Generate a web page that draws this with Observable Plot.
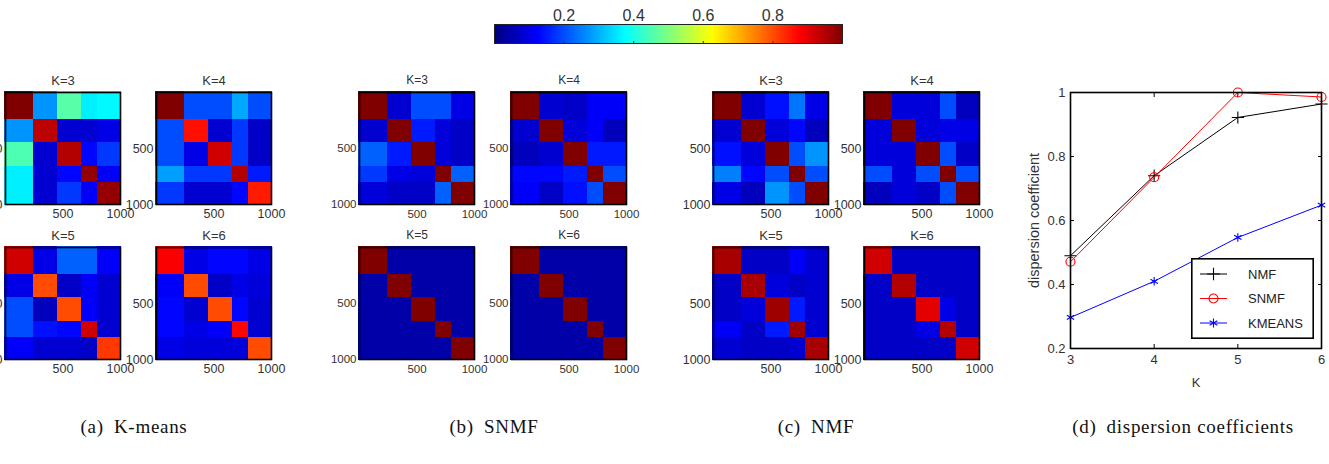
<!DOCTYPE html>
<html>
<head>
<meta charset="utf-8">
<script src="https://cdn.jsdelivr.net/npm/d3@7"></script>
<script src="https://cdn.jsdelivr.net/npm/@observablehq/plot@0.6"></script>
<style>
  html, body { margin: 0; padding: 0; background: #fff; }
  body { width: 1329px; height: 464px; position: relative; overflow: hidden; font-family: "Liberation Sans", Arial, sans-serif; }
  .panel { position: absolute; }
  .panel svg { overflow: visible; }
  .caption { position: absolute; transform: translateX(-50%); white-space: nowrap;
             font-family: "Liberation Serif", "DejaVu Serif", serif; font-size: 19px; letter-spacing: 0.7px; color: #111; }
</style>
</head>
<body>
<script>
// ---------- data ----------
// cluster boundaries of the 1000 samples (five ground-truth groups)
const clusterEdges = [0, 250, 455, 665, 805, 1000];
const kValues = [3, 4, 5, 6];

// consensus matrices, block-averaged (rows/cols follow clusterEdges)
const kmeansK3 = [
  [1.00, 0.27, 0.46, 0.36, 0.37],
  [0.27, 0.94, 0.08, 0.08, 0.10],
  [0.45, 0.08, 0.95, 0.13, 0.18],
  [0.36, 0.08, 0.13, 0.98, 0.12],
  [0.36, 0.08, 0.18, 0.12, 0.98]
];
const kmeansK4 = [
  [1.00, 0.20, 0.20, 0.29, 0.20],
  [0.20, 0.86, 0.08, 0.18, 0.07],
  [0.20, 0.10, 0.92, 0.18, 0.07],
  [0.28, 0.18, 0.18, 0.95, 0.15],
  [0.18, 0.08, 0.08, 0.13, 0.85]
];
const kmeansK5 = [
  [0.92, 0.10, 0.22, 0.22, 0.12],
  [0.10, 0.80, 0.07, 0.12, 0.08],
  [0.20, 0.06, 0.80, 0.12, 0.08],
  [0.20, 0.14, 0.13, 0.92, 0.08],
  [0.12, 0.08, 0.08, 0.07, 0.82]
];
const kmeansK6 = [
  [0.88, 0.10, 0.13, 0.13, 0.10],
  [0.12, 0.80, 0.07, 0.10, 0.09],
  [0.13, 0.08, 0.80, 0.13, 0.08],
  [0.13, 0.10, 0.12, 0.87, 0.08],
  [0.10, 0.09, 0.09, 0.09, 0.80]
];
const snmfK3 = [
  [1.00, 0.08, 0.20, 0.20, 0.10],
  [0.08, 1.00, 0.15, 0.09, 0.07],
  [0.22, 0.15, 1.00, 0.09, 0.07],
  [0.18, 0.10, 0.09, 1.00, 0.22],
  [0.09, 0.07, 0.07, 0.22, 1.00]
];
const snmfK4 = [
  [1.00, 0.08, 0.07, 0.12, 0.12],
  [0.08, 1.00, 0.09, 0.12, 0.06],
  [0.06, 0.08, 1.00, 0.15, 0.15],
  [0.13, 0.13, 0.15, 1.00, 0.20],
  [0.12, 0.07, 0.14, 0.20, 1.00]
];
const snmfK5 = [
  [1.00, 0.04, 0.04, 0.04, 0.04],
  [0.04, 1.00, 0.04, 0.04, 0.04],
  [0.04, 0.04, 1.00, 0.04, 0.04],
  [0.04, 0.04, 0.04, 1.00, 0.04],
  [0.04, 0.04, 0.04, 0.04, 1.00]
];
const snmfK6 = [
  [1.00, 0.04, 0.04, 0.04, 0.04],
  [0.04, 1.00, 0.04, 0.04, 0.04],
  [0.04, 0.04, 1.00, 0.04, 0.04],
  [0.04, 0.04, 0.04, 1.00, 0.04],
  [0.04, 0.04, 0.04, 0.04, 1.00]
];
const nmfK3 = [
  [1.00, 0.08, 0.14, 0.24, 0.10],
  [0.08, 1.00, 0.09, 0.13, 0.06],
  [0.14, 0.09, 1.00, 0.20, 0.27],
  [0.25, 0.13, 0.20, 1.00, 0.20],
  [0.10, 0.06, 0.27, 0.20, 1.00]
];
const nmfK4 = [
  [1.00, 0.09, 0.09, 0.20, 0.06],
  [0.09, 1.00, 0.09, 0.10, 0.10],
  [0.09, 0.09, 1.00, 0.20, 0.07],
  [0.20, 0.09, 0.20, 1.00, 0.20],
  [0.06, 0.09, 0.07, 0.20, 1.00]
];
const nmfK5 = [
  [0.96, 0.07, 0.07, 0.12, 0.08],
  [0.07, 0.96, 0.09, 0.07, 0.08],
  [0.07, 0.09, 0.97, 0.15, 0.08],
  [0.12, 0.07, 0.15, 0.97, 0.08],
  [0.08, 0.07, 0.07, 0.08, 0.96]
];
const nmfK6 = [
  [0.92, 0.07, 0.07, 0.07, 0.07],
  [0.07, 0.95, 0.07, 0.07, 0.07],
  [0.07, 0.07, 0.90, 0.10, 0.07],
  [0.07, 0.07, 0.10, 0.95, 0.07],
  [0.07, 0.07, 0.07, 0.07, 0.92]
];

// dispersion coefficient per K
const seriesNames = ["NMF", "SNMF", "KMEANS"];
const nmfDispersion = [0.49, 0.74, 0.922, 0.964];
const snmfDispersion = [0.471, 0.735, 1.0, 0.986];
const kmeansDispersion = [0.297, 0.41, 0.547, 0.648];

const colorTicks = [0.2, 0.4, 0.6, 0.8];
const matrixTicks = [500, 1000];
const dispersionTicks = [0.2, 0.4, 0.6, 0.8, 1];
const captions = ["(a)\u2002K-means", "(b)\u2002SNMF", "(c)\u2002NMF", "(d)\u2002dispersion coefficients"];

// ---------- colour map (MATLAB "jet") ----------
const clamp01 = v => Math.max(0, Math.min(1, v));
function jet(t) {
  const r = clamp01(1.5 - Math.abs(4 * t - 3));
  const g = clamp01(1.5 - Math.abs(4 * t - 2));
  const b = clamp01(1.5 - Math.abs(4 * t - 1));
  return d3.rgb(r * 255, g * 255, b * 255).formatHex();
}
const colorScale = { type: "linear", domain: [0, 1], interpolate: () => jet };

// ---------- helpers ----------
function place(node, left, top) {
  const div = document.createElement("div");
  div.className = "panel";
  div.style.left = left + "px";
  div.style.top = top + "px";
  div.appendChild(node);
  document.body.appendChild(div);
  return div;
}

function blockCells(matrix) {
  const cells = [];
  matrix.forEach((row, i) => row.forEach((v, j) => cells.push({
    x1: clusterEdges[j], x2: clusterEdges[j + 1],
    y1: clusterEdges[i], y2: clusterEdges[i + 1], v
  })));
  return cells;
}

// one consensus-matrix heat map
const HM = { w: 115, h: 112, ml: 34, mr: 18, mt: 24, mb: 22 };
function heatmap(matrix, title, fontSize, titleSize, frameLeft, frameTop) {
  const chart = Plot.plot({
    width: HM.ml + HM.w + HM.mr,
    height: HM.mt + HM.h + HM.mb,
    marginLeft: HM.ml, marginRight: HM.mr, marginTop: HM.mt, marginBottom: HM.mb,
    style: { fontFamily: "Liberation Sans, Arial, sans-serif", fontSize: fontSize + "px", color: "#333", background: "transparent" },
    x: { domain: [0, 1000] },
    y: { domain: [0, 1000], reverse: true },
    color: colorScale,
    marks: [
      Plot.rect(blockCells(matrix), { x1: "x1", x2: "x2", y1: "y1", y2: "y2", fill: "v", inset: -0.6, shapeRendering: "crispEdges" }),
      Plot.frame({ stroke: "#000", strokeWidth: 1.6 }),
      Plot.axisX({ ticks: matrixTicks, tickSize: 0, tickPadding: 5, label: null, fontSize, tickFormat: d3.format("d") }),
      Plot.axisY({ ticks: matrixTicks, tickSize: 0, tickPadding: 3, label: null, fontSize, tickFormat: d3.format("d") }),
      Plot.text([title], { frameAnchor: "top", dy: -17, fontSize: titleSize, fill: "#333" })
    ]
  });
  place(chart, frameLeft - HM.ml, frameTop - HM.mt);
}

// ---------- heat-map grid ----------
const rowTops = [92, 247];
const groups = [
  { lefts: [5, 156], mats: [kmeansK3, kmeansK4, kmeansK5, kmeansK6], fs: 12.5, ts: 13 },
  { lefts: [359, 511], mats: [snmfK3, snmfK4, snmfK5, snmfK6], fs: 11.5, ts: 12 },
  { lefts: [713, 864], mats: [nmfK3, nmfK4, nmfK5, nmfK6], fs: 12.5, ts: 13 }
];
groups.forEach(g => {
  g.mats.forEach((m, i) => {
    heatmap(m, "K=" + kValues[i], g.fs, g.ts, g.lefts[i % 2], rowTops[Math.floor(i / 2)]);
  });
});

// ---------- colour bar ----------
{
  const W = 348, H = 19, ml = 10, mr = 10, mt = 22, mb = 4;
  const bar = Plot.plot({
    width: ml + W + mr, height: mt + H + mb,
    marginLeft: ml, marginRight: mr, marginTop: mt, marginBottom: mb,
    style: { fontFamily: "Liberation Sans, Arial, sans-serif", fontSize: "16px", color: "#333", background: "transparent" },
    x: { domain: colorScale.domain },
    y: { domain: [0, 1], axis: null },
    color: colorScale,
    marks: [
      Plot.raster({ x1: colorScale.domain[0], x2: colorScale.domain[1], y1: 0, y2: 1, width: 256, height: 1, fill: (x) => x, imageRendering: "auto" }),
      Plot.frame({ stroke: "#222", strokeWidth: 1 }),
      Plot.axisX({ anchor: "top", ticks: colorTicks, tickSize: 0, tickPadding: 4, fontSize: 16, label: null, tickFormat: d3.format(".1f") }),
      Plot.axisX({ anchor: "bottom", ticks: colorTicks, tickSize: -2, text: null, label: null, stroke: "#333" })
    ]
  });
  place(bar, 494 - ml, 24 - mt);
}

// ---------- dispersion coefficient chart ----------
{
  const W = 251, H = 256, ml = 48, mr = 8, mt = 10, mb = 44;
  const pts = [];
  kValues.forEach((k, i) => {
    pts.push({ K: k, value: nmfDispersion[i], series: "NMF" });
    pts.push({ K: k, value: snmfDispersion[i], series: "SNMF" });
    pts.push({ K: k, value: kmeansDispersion[i], series: "KMEANS" });
  });
  const strokeOf = { NMF: "#000000", SNMF: "#ff0000", KMEANS: "#0000ff" };
  const symbolOf = { NMF: "plus", SNMF: "circle", KMEANS: "asterisk" };
  const seriesMarks = seriesNames.flatMap(name => {
    const d = pts.filter(p => p.series === name);
    return [
      Plot.line(d, { x: "K", y: "value", stroke: strokeOf[name], strokeWidth: 1 }),
      Plot.dot(d, { x: "K", y: "value", stroke: strokeOf[name], fill: "none", symbol: symbolOf[name], r: name === "SNMF" ? 4.5 : 4, strokeWidth: 1.1 })
    ];
  });
  const chart = Plot.plot({
    width: ml + W + mr, height: mt + H + mb,
    marginLeft: ml, marginRight: mr, marginTop: mt, marginBottom: mb,
    style: { fontFamily: "Liberation Sans, Arial, sans-serif", fontSize: "13px", color: "#333", background: "transparent" },
    x: { domain: [3, 6] },
    y: { domain: [0.2, 1] },
    marks: [
      Plot.axisX({ ticks: kValues, tickSize: 0, tickPadding: 6, fontSize: 13, label: "K", labelAnchor: "center", labelArrow: "none", labelOffset: 38, tickFormat: d3.format("d") }),
      Plot.axisY({ ticks: dispersionTicks, tickSize: 0, tickPadding: 5, fontSize: 13, label: null, tickFormat: d => d === 1 ? "1" : d3.format(".1f")(d) }),
      Plot.axisY({ ticks: [], label: "dispersion coefficient", labelAnchor: "center", labelArrow: "none", labelOffset: 42, fontSize: 14.5 }),
      Plot.axisX({ anchor: "bottom", ticks: kValues, tickSize: -4, text: null, label: null, stroke: "#000" }),
      Plot.axisX({ anchor: "top", ticks: kValues, tickSize: -4, text: null, label: null, stroke: "#000" }),
      Plot.axisY({ anchor: "left", ticks: dispersionTicks, tickSize: -4, text: null, label: null, stroke: "#000" }),
      Plot.axisY({ anchor: "right", ticks: dispersionTicks, tickSize: -4, text: null, label: null, stroke: "#000" }),
      ...seriesMarks,
      Plot.frame({ stroke: "#000", strokeWidth: 1.6 })
    ]
  });
  place(chart, 1070 - ml, 92 - mt);

  // legend box
  const lw = 123, lh = 81;
  const legend = d3.create("svg").attr("width", lw).attr("height", lh)
    .style("font-family", "Liberation Sans, Arial, sans-serif").style("font-size", "13px");
  legend.append("rect").attr("x", 0.8).attr("y", 0.8).attr("width", lw - 1.6).attr("height", lh - 1.6)
    .attr("fill", "#fff").attr("stroke", "#000").attr("stroke-width", 1.6);
  const sym = d3.symbol();
  const d3Sym = { NMF: d3.symbolPlus, SNMF: d3.symbolCircle, KMEANS: d3.symbolAsterisk };
  seriesNames.forEach((name, i) => {
    const cy = 16 + i * 24.5;
    const g = legend.append("g");
    g.append("line").attr("x1", 9).attr("x2", 36).attr("y1", cy).attr("y2", cy)
      .attr("stroke", strokeOf[name]).attr("stroke-width", 1);
    g.append("path").attr("d", sym.type(d3Sym[name]).size(name === "SNMF" ? 64 : 55)())
      .attr("transform", `translate(22.5,${cy})`).attr("fill", "none")
      .attr("stroke", strokeOf[name]).attr("stroke-width", 1.1);
    g.append("text").attr("x", 57).attr("y", cy).attr("dy", "0.35em").attr("fill", "#222").text(name);
  });
  place(legend.node(), 1191, 258);
}

// ---------- sub-figure captions ----------
const captionCenters = [134, 494, 816, 1183];
captions.forEach((c, i) => {
  const div = document.createElement("div");
  div.className = "caption";
  div.textContent = c;
  div.style.left = captionCenters[i] + "px";
  div.style.top = "416px";
  document.body.appendChild(div);
});
</script>
</body>
</html>
